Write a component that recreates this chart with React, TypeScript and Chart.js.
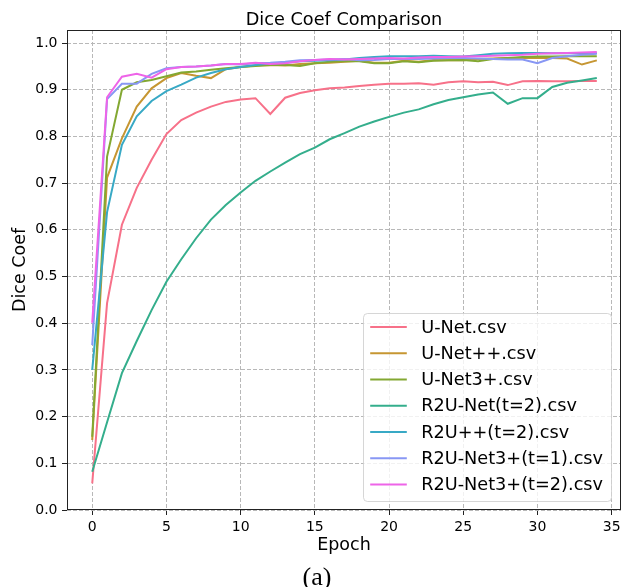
import React, { useEffect, useRef } from "react";
import { Chart, registerables } from "chart.js";

Chart.register(...registerables);

const epochs = [0, 1, 2, 3, 4, 5, 6, 7, 8, 9, 10, 11, 12, 13, 14, 15, 16, 17, 18, 19, 20, 21, 22, 23, 24, 25, 26, 27, 28, 29, 30, 31, 32, 33, 34];

const seriesNames = [
  "U-Net.csv",
  "U-Net++.csv",
  "U-Net3+.csv",
  "R2U-Net(t=2).csv",
  "R2U++(t=2).csv",
  "R2U-Net3+(t=1).csv",
  "R2U-Net3+(t=2).csv",
];

const unet = [0.057, 0.443, 0.611, 0.69, 0.75, 0.805, 0.835, 0.851, 0.864, 0.874, 0.879, 0.882, 0.848, 0.883, 0.893, 0.899, 0.903, 0.905, 0.908, 0.911, 0.913, 0.913, 0.914, 0.911, 0.916, 0.918, 0.916, 0.917, 0.91, 0.918, 0.919, 0.918, 0.918, 0.919, 0.919];
const unetPP = [0.15, 0.712, 0.796, 0.864, 0.903, 0.925, 0.936, 0.93, 0.925, 0.944, 0.949, 0.952, 0.953, 0.952, 0.955, 0.957, 0.958, 0.96, 0.962, 0.958, 0.958, 0.962, 0.96, 0.964, 0.963, 0.963, 0.966, 0.967, 0.968, 0.968, 0.968, 0.968, 0.967, 0.954, 0.963];
const unet3P = [0.157, 0.757, 0.9, 0.916, 0.921, 0.929, 0.937, 0.939, 0.943, 0.946, 0.949, 0.951, 0.953, 0.953, 0.951, 0.957, 0.96, 0.961, 0.961, 0.957, 0.957, 0.961, 0.959, 0.962, 0.963, 0.964, 0.961, 0.966, 0.968, 0.97, 0.971, 0.971, 0.972, 0.972, 0.972];
const r2unet = [0.082, 0.188, 0.293, 0.362, 0.428, 0.489, 0.537, 0.582, 0.622, 0.653, 0.68, 0.705, 0.725, 0.744, 0.762, 0.776, 0.794, 0.807, 0.821, 0.832, 0.842, 0.851, 0.858, 0.869, 0.878, 0.884, 0.89, 0.894, 0.87, 0.882, 0.882, 0.906, 0.915, 0.92, 0.925];
const r2uPP = [0.3, 0.638, 0.782, 0.843, 0.876, 0.897, 0.911, 0.926, 0.936, 0.944, 0.949, 0.953, 0.956, 0.958, 0.961, 0.962, 0.963, 0.965, 0.968, 0.97, 0.972, 0.972, 0.972, 0.973, 0.972, 0.971, 0.974, 0.977, 0.978, 0.979, 0.979, 0.978, 0.978, 0.978, 0.978];
const r2u3Pt1 = [0.353, 0.88, 0.913, 0.913, 0.934, 0.946, 0.949, 0.95, 0.952, 0.955, 0.954, 0.957, 0.958, 0.96, 0.963, 0.964, 0.965, 0.966, 0.963, 0.964, 0.966, 0.966, 0.966, 0.967, 0.968, 0.968, 0.967, 0.966, 0.965, 0.965, 0.957, 0.968, 0.972, 0.975, 0.977];
const r2u3Pt2 = [0.401, 0.884, 0.928, 0.934, 0.926, 0.944, 0.949, 0.95, 0.952, 0.955, 0.955, 0.958, 0.955, 0.957, 0.961, 0.964, 0.966, 0.965, 0.966, 0.967, 0.968, 0.967, 0.969, 0.97, 0.97, 0.971, 0.972, 0.973, 0.974, 0.975, 0.977, 0.978, 0.979, 0.98, 0.981];

const seriesValues = [unet, unetPP, unet3P, r2unet, r2uPP, r2u3Pt1, r2u3Pt2];
const seriesColors = ["#f77189", "#c69632", "#83a832", "#34ae8c", "#38a9c5", "#8897f4", "#ee64e8"];

const xTicks = [0, 5, 10, 15, 20, 25, 30, 35];
const yTicks = [0, 0.1, 0.2, 0.3, 0.4, 0.5, 0.6, 0.7, 0.8, 0.9, 1.0];

const chartTitle = "Dice Coef Comparison";

const FONT = "'DejaVu Sans', sans-serif";

const titlePlugin = {
  id: "mplTitle",
  afterDraw(chart: any) {
    const { ctx, chartArea } = chart;
    ctx.save();
    ctx.font = `17.7px ${FONT}`;
    ctx.fillStyle = "#000";
    ctx.textAlign = "center";
    ctx.textBaseline = "middle";
    ctx.fillText(chartTitle, (chartArea.left + chartArea.right) / 2, 20);
    ctx.restore();
  },
};

const spinesPlugin = {
  id: "spines",
  afterDatasetsDraw(chart: any) {
    const { ctx, chartArea } = chart;
    ctx.save();
    ctx.strokeStyle = "#222";
    ctx.lineWidth = 1;
    ctx.strokeRect(chartArea.left + 0.5, chartArea.top + 0.5, chartArea.right - chartArea.left - 1, chartArea.bottom - chartArea.top - 1);
    ctx.restore();
  },
};

const legendPlugin = {
  id: "mplLegend",
  afterDraw(chart: any) {
    const { ctx, chartArea } = chart;
    const boxRight = chartArea.right - 9.5;
    const boxBottom = chartArea.bottom - 8.5;
    const boxW = 248;
    const boxH = 188;
    const x0 = boxRight - boxW;
    const y0 = boxBottom - boxH;
    ctx.save();
    const r = 4;
    ctx.beginPath();
    ctx.moveTo(x0 + r, y0);
    ctx.lineTo(x0 + boxW - r, y0);
    ctx.arcTo(x0 + boxW, y0, x0 + boxW, y0 + r, r);
    ctx.lineTo(x0 + boxW, y0 + boxH - r);
    ctx.arcTo(x0 + boxW, y0 + boxH, x0 + boxW - r, y0 + boxH, r);
    ctx.lineTo(x0 + r, y0 + boxH);
    ctx.arcTo(x0, y0 + boxH, x0, y0 + boxH - r, r);
    ctx.lineTo(x0, y0 + r);
    ctx.arcTo(x0, y0, x0 + r, y0, r);
    ctx.closePath();
    ctx.fillStyle = "rgba(255,255,255,0.8)";
    ctx.fill();
    ctx.strokeStyle = "rgba(204,204,204,0.8)";
    ctx.lineWidth = 1;
    ctx.stroke();

    const rowH = 26.28;
    const firstY = y0 + 13.4;
    ctx.font = `17.7px ${FONT}`;
    ctx.textBaseline = "middle";
    ctx.textAlign = "left";
    chart.data.datasets.forEach((ds: any, i: number) => {
      const y = firstY + i * rowH;
      ctx.strokeStyle = ds.borderColor;
      ctx.lineWidth = 2;
      ctx.beginPath();
      ctx.moveTo(x0 + 6.7, y);
      ctx.lineTo(x0 + 43.3, y);
      ctx.stroke();
      ctx.fillStyle = "#000";
      ctx.fillText(ds.label, x0 + 57.7, y + 1);
    });
    ctx.restore();
  },
};

export default function App() {
  const canvasRef = useRef<HTMLCanvasElement | null>(null);

  useEffect(() => {
    const canvas = canvasRef.current;
    if (!canvas) return;
    const datasets = seriesNames.map((name, i) => ({
      label: name,
      data: epochs.map((e, j) => ({ x: e, y: seriesValues[i][j] })),
      borderColor: seriesColors[i],
      backgroundColor: seriesColors[i],
      borderWidth: 2,
      pointRadius: 0,
      pointHoverRadius: 0,
      tension: 0,
      fill: false,
      order: seriesNames.length - 1 - i,
    }));

    const gridOpts: any = {
      color: "#b8b8b8",
      lineWidth: 1,
      drawTicks: true,
      tickLength: 5,
      tickColor: "#222",
      tickWidth: 1,
      tickBorderDash: [],
    };

    const chart = new Chart(canvas, {
      type: "line",
      data: { datasets },
      options: {
        responsive: false,
        animation: false,
        devicePixelRatio: 1,
        layout: { padding: { left: 0, right: 0, top: 30, bottom: 0 } },
        plugins: {
          legend: { display: false },
          tooltip: { enabled: false },
          title: { display: false },
        },
        scales: {
          x: {
            type: "linear",
            min: -1.7,
            max: 35.63,
            afterBuildTicks: (scale: any) => {
              scale.ticks = xTicks.map((v) => ({ value: v }));
            },
            afterFit: (scale: any) => {
              scale.height = 77;
              scale.paddingLeft = 0;
              scale.paddingRight = 0;
            },
            ticks: {
              color: "#000",
              font: { family: FONT, size: 14 },
              padding: 3.5,
              maxRotation: 0,
              autoSkip: false,
              callback: (v: any) => String(v),
            },
            grid: gridOpts,
            border: { display: false, dash: [4, 2] },
            title: {
              display: true,
              text: "Epoch",
              color: "#000",
              font: { family: FONT, size: 17.5, lineHeight: 1.2 },
              padding: { top: 0, bottom: 31 },
            },
          },
          y: {
            type: "linear",
            min: 0,
            max: 1.028,
            afterBuildTicks: (scale: any) => {
              scale.ticks = yTicks.map((v) => ({ value: v }));
            },
            afterFit: (scale: any) => {
              scale.width = 67;
              scale.paddingTop = 0;
              scale.paddingBottom = 0;
            },
            ticks: {
              color: "#000",
              font: { family: FONT, size: 14 },
              padding: 4.5,
              autoSkip: false,
              callback: (v: any) => Number(v).toFixed(1),
            },
            grid: gridOpts,
            border: { display: false, dash: [4, 2] },
            title: {
              display: true,
              text: "Dice Coef",
              color: "#000",
              font: { family: FONT, size: 17.5, lineHeight: 1.2 },
              padding: { top: 9.5, bottom: 0 },
            },
          },
        },
      },
      plugins: [spinesPlugin, legendPlugin, titlePlugin],
    } as any);

    return () => {
      chart.destroy();
    };
  }, []);

  return (
    <div style={{ position: "absolute", left: 0, top: 0, width: 621, height: 587, background: "#fff", overflow: "hidden" }}>
      <canvas ref={canvasRef} width={621} height={587} style={{ display: "block", width: 621, height: 587 }} />
      <div
        style={{
          position: "absolute",
          left: 0,
          width: 634,
          top: 562,
          textAlign: "center",
          fontFamily: "'Liberation Serif', 'Times New Roman', serif",
          fontSize: 26,
          lineHeight: "30px",
          color: "#000",
        }}
      >
        (a)
      </div>
    </div>
  );
}
